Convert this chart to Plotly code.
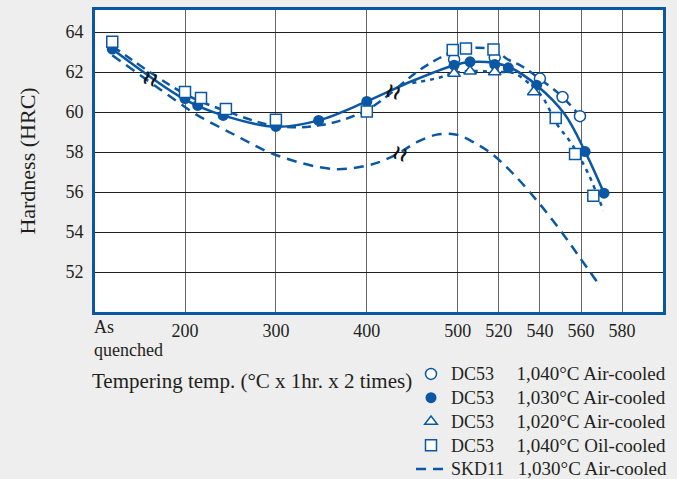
import numpy as np
import plotly.graph_objects as go

# ---------------- data ----------------
# x axis: "As quenched" + tempering temperatures (°C); axis is compressed above 500 °C
TICK_TEMPS = [200, 300, 400, 500, 520, 540, 560, 580]
TICK_LABELS = ["200", "300", "400", "500", "520", "540", "560", "580"]
AXIS_TEMPS = [200, 500, 580]          # scale breakpoints
AXIS_POS = [2.0, 5.0, 6.808]          # axis units at those breakpoints
AQ_POS = 1.2                          # axis unit for "As quenched"
Y_TICKS = [52, 54, 56, 58, 60, 62, 64]

# DC53 1,040°C Air-cooled (open circles)
c1040_t = [496, 518, 540, 551, 559.5]
c1040_h = [62.63, 62.72, 61.67, 60.75, 59.79]

# DC53 1,030°C Air-cooled (filled circles)
c1030_t = ["AQ", 197.5, 214, 242, 300, 347, 400, 496, 506, 518, 524.6, 538.4, 562, 571.2]
c1030_h = [63.15, 60.67, 60.33, 59.83, 59.28, 59.58, 60.53, 62.34, 62.51, 62.38, 62.21, 61.34, 58.02, 55.94]

# DC53 1,020°C Air-cooled (triangles)
c1020_t = [496, 506, 518, 537]
c1020_h = [61.92, 62.04, 62.0, 61.0]

# DC53 1,040°C Oil-cooled (squares)
o1040_t = ["AQ", 197.5, 217.6, 245, 300, 400, 494.5, 504, 517.4, 547.7, 557.1, 566]
o1040_h = [63.51, 61.0, 60.70, 60.15, 59.61, 60.03, 63.1, 63.18, 63.13, 59.7, 57.9, 55.81]

# fitted curves
solid_t = ["AQ", 200, 242, 300, 347, 400, 450, 496, 506, 518, 526, 538.4, 552, 562, 571.2]
solid_h = [63.15, 60.62, 59.83, 59.26, 59.58, 60.53, 61.55, 62.34, 62.5, 62.45, 62.2, 61.34, 59.9, 58.02, 55.94]

upper_t = ["AQ", 200, 245, 300, 350, 400, 458, 480, 496, 506, 518, 524, 531, 540, 551, 561]
upper_h = [63.3, 60.9, 60.05, 59.3, 59.35, 60.1, 62.1, 62.7, 63.05, 63.2, 63.1, 62.65, 62.3, 61.65, 60.75, 59.6]

dotted_t = [450, 478, 496, 506, 518, 527, 534.5, 541.5, 548.2, 555.5, 563.6, 570.9]
dotted_h = [61.45, 61.7, 61.95, 62.05, 62.0, 61.95, 61.45, 60.7, 59.41, 58.4, 56.9, 55.06]

skd_t = ["AQ", 200, 211, 252.7, 300, 362.6, 399.7, 418, 436.5, 454.9, 476.9, 493.4, 501.1,
         507.6, 515.7, 527.1, 540, 551.4, 559.5, 567.6]
skd_h = [62.84, 60.25, 59.91, 58.9, 57.85, 57.15, 57.32, 57.57, 57.98, 58.49, 58.87, 58.9, 58.82,
         58.49, 57.98, 56.9, 55.39, 53.88, 52.71, 51.54]

# break marks (axis units, HRC)
BREAK_X = [1.615, 4.288, 4.365]
BREAK_Y = [61.69, 61.04, 57.97]

BLUE = "#0b57a4"
TXT = "#231f20"
FONT = "Liberation Serif"


def to_pos(ts):
    return [AQ_POS if t == "AQ" else float(np.interp(t, AXIS_TEMPS, AXIS_POS)) for t in ts]


def leg(steel, cond, gap):
    nb = "\u00a0"
    return ('<span style="font-size:18px">' + steel + nb * gap + "</span>"
            + '<span style="font-size:19px">' + cond + "</span>")


fig = go.Figure()

# curves (not in legend)
fig.add_trace(go.Scatter(x=to_pos(solid_t), y=solid_h, mode="lines", line=dict(color=BLUE, width=2.5, shape="spline", smoothing=1.0), showlegend=False, hoverinfo="skip"))
fig.add_trace(go.Scatter(x=to_pos(upper_t), y=upper_h, mode="lines", line=dict(color=BLUE, width=2.5, dash="9px,6px", shape="spline", smoothing=1.0), showlegend=False, hoverinfo="skip"))
fig.add_trace(go.Scatter(x=to_pos(dotted_t), y=dotted_h, mode="lines", line=dict(color=BLUE, width=2.5, dash="4px,5px", shape="spline", smoothing=1.0), showlegend=False, hoverinfo="skip"))

# legend traces
fig.add_trace(go.Scatter(x=to_pos(c1040_t), y=c1040_h, mode="markers", name=leg("DC53", "1,040°C Air-cooled", 5),
                         marker=dict(symbol="circle", size=11, color="white", line=dict(color=BLUE, width=1.5))))
fig.add_trace(go.Scatter(x=to_pos(c1030_t), y=c1030_h, mode="markers", name=leg("DC53", "1,030°C Air-cooled", 5),
                         marker=dict(symbol="circle", size=11, color=BLUE, line=dict(color=BLUE, width=0))))
fig.add_trace(go.Scatter(x=to_pos(c1020_t), y=c1020_h, mode="markers", name=leg("DC53", "1,020°C Air-cooled", 5),
                         marker=dict(symbol="triangle-up", size=11, color="white", line=dict(color=BLUE, width=1.5))))
fig.add_trace(go.Scatter(x=to_pos(o1040_t), y=o1040_h, mode="markers", name=leg("DC53", "1,040°C Oil-cooled", 5),
                         marker=dict(symbol="square", size=11, color="white", line=dict(color=BLUE, width=1.5))))
fig.add_trace(go.Scatter(x=to_pos(skd_t), y=skd_h, mode="lines", name=leg("SKD11", "1,030°C Air-cooled", 3),
                         line=dict(color=BLUE, width=2.5, dash="10px,7px", shape="spline", smoothing=1.0)))

for bx, by in zip(BREAK_X, BREAK_Y):
    fig.add_annotation(x=bx, y=by, xref="x", yref="y", text="<b>≀≀</b>", showarrow=False,
                       font=dict(family="DejaVu Sans", size=20, color="#111111"), textangle=20)

fig.add_annotation(xref="paper", yref="paper", x=-0.006, y=-0.009, xanchor="left", yanchor="top",
                   text="As<br>quenched", align="left", showarrow=False,
                   font=dict(family=FONT, size=18, color=TXT))
fig.add_annotation(xref="paper", yref="paper", x=-0.009, y=-0.228, xanchor="left", yanchor="middle",
                   text="Tempering temp. (°C x 1hr. x 2 times)", showarrow=False,
                   font=dict(family=FONT, size=21, color=TXT))

fig.update_layout(
    width=677, height=479,
    margin=dict(l=95, r=14, t=10, b=167, autoexpand=False),
    paper_bgcolor="#eeeeee", plot_bgcolor="white",
    font=dict(family=FONT, size=18, color=TXT),
    showlegend=True,
    legend=dict(x=(411 - 95) / 568, y=-(357 - 312) / 302, xanchor="left", yanchor="top", bgcolor="rgba(0,0,0,0)",
                font=dict(family=FONT, size=16, color=TXT), tracegroupgap=0, itemwidth=30),
    xaxis=dict(range=[1.01, 7.258], tickvals=to_pos(TICK_TEMPS), ticktext=TICK_LABELS,
               showgrid=True, gridcolor="#6a6464", gridwidth=1, zeroline=False, automargin=False,
               showline=True, linecolor=BLUE, linewidth=3, mirror=True, ticks="",
               ticklabelstandoff=0, tickfont=dict(size=18)),
    yaxis=dict(range=[50, 65.1], tickvals=Y_TICKS, showgrid=True, gridcolor="#231f20", gridwidth=1,
               zeroline=False, showline=True, linecolor=BLUE, linewidth=3, mirror=True, ticks="",
               ticklabelstandoff=5, tickfont=dict(size=18), automargin=False,
               title=dict(text="Hardness (HRC)", font=dict(size=22), standoff=24)),
)

fig.write_html("out.html", config={"displayModeBar": False},
               post_script="document.body.style.margin='0px';document.body.style.background='#eeeeee';")
